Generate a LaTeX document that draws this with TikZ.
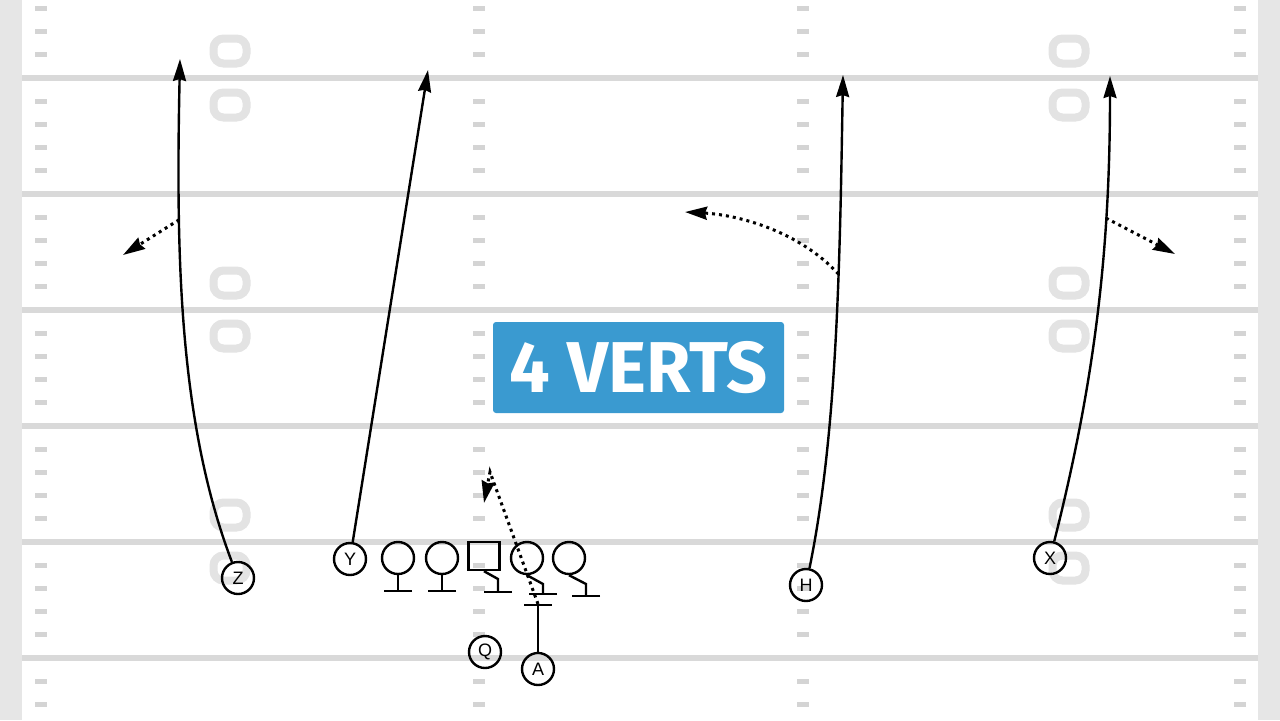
\documentclass[tikz,border=0pt]{standalone}
\usepackage{fontspec}
\setmainfont{Liberation Sans}
\newfontfamily\titlefont{Fira Sans}
\usepackage{tikz}
\usetikzlibrary{arrows.meta}
\definecolor{fieldline}{HTML}{D9D9D9}
\definecolor{hashgray}{HTML}{D4D4D4}
\definecolor{sidegray}{HTML}{E6E6E6}
\definecolor{numgray}{HTML}{E3E3E3}
\definecolor{titleblue}{HTML}{3A9AD0}

\begin{document}
\begin{tikzpicture}[x=0.5pt,y=-0.5pt,>={Stealth[length=11pt,width=6.5pt,inset=1pt]},
  player/.style={circle,draw,line width=1.2pt,minimum size=16pt,inner sep=0pt,font=\fontsize{9}{10}\selectfont},
  lineman/.style={circle,draw,line width=1.2pt,minimum size=16pt,inner sep=0pt},
  snap/.style={rectangle,draw,line width=1.2pt,minimum width=15.5pt,minimum height=14pt,inner sep=0pt},
  route/.style={->,line width=1.2pt},
  option/.style={->,line width=1.5pt,dash pattern=on 1.5pt off 2pt},
  stance/.style={-{Bar[width=14pt]},line width=1.2pt}]
\useasboundingbox (0,0) rectangle (1280,720);
\fill[white] (0,0) rectangle (1280,720);
\fill[sidegray] (0,0) rectangle (22,720);
\fill[sidegray] (1258,0) rectangle (1280,720);
% hashes and yard lines
\foreach \m in {0,...,30}
  \foreach \hx in {41,479,803,1240}
    \fill[hashgray] (\hx-6,8.4+23.2*\m-2.5) rectangle (\hx+6,8.4+23.2*\m+2.5);
\foreach \ly in {78,194,...,658}
  \fill[fieldline] (22,\ly-3) rectangle (1258,\ly+3);
\foreach \nx in {230,1069}
  \foreach \ny in {51,105,283,336,515,568}
    \draw[numgray,line width=4pt,rounded corners=5pt] (\nx-16.5,\ny-12.5) rectangle (\nx+16.5,\ny+12.5);

\node[fill=titleblue,rounded corners=1.5pt,minimum width=145.5pt,minimum height=45.5pt,text=white,
  font=\titlefont\fontsize{36}{36}\bfseries\selectfont] (T) at (638.5,367.5) {4 VERTS};

% players
\node[player]  (Z)  at (238,578)  {Z};
\node[player]  (Y)  at (350,559)  {Y};
\node[lineman] (LT) at (398,558)  {};
\node[lineman] (LG) at (442,558)  {};
\node[snap]    (C)  at (484,556)  {};
\node[lineman] (RG) at (527,558)  {};
\node[lineman] (RT) at (569,558)  {};
\node[player]  (H)  at (806,585)  {H};
\node[player]  (X)  at (1050,558) {X};
\node[player]  (Q)  at (485,652)  {Q};
\node[player]  (A)  at (538,669)  {A};

\coordinate (lts) at (398,592);
\coordinate (lgs) at (442,592);
\coordinate (cb)  at (498,579);
\coordinate (cs)  at (498,593);
\coordinate (rgb) at (543,584);
\coordinate (rgs) at (543,595);
\coordinate (rtb) at (586,584);
\coordinate (rts) at (586,597);
\coordinate (ab)  at (538,604);
\coordinate (at)  at (490,472);
\coordinate (ah)  at (484,503);
\coordinate (zt)  at (180,59);
\coordinate (zo)  at (123,255);
\coordinate (yt)  at (428,70);
\coordinate (ht)  at (843,75);
\coordinate (ho)  at (685,212);
\coordinate (xt)  at (1110,76);
\coordinate (xo)  at (1175,254);

% line
\draw[stance] (LT) -- (lts);
\draw[stance] (LG) -- (lgs);
\draw[stance] (C.south) -- (cb) -- (cs);
\draw[stance] (RG.south) -- (rgb) -- (rgs);
\draw[stance] (RT.south) -- (rtb) -- (rts);
\draw[stance] (A) -- (ab);
\draw[option] (ab) -- (at) -- (ah);

% routes
\draw[route] (Z) .. controls (178,420) and (176,250) .. (zt) coordinate[pos=0.71] (zb);
\draw[option] (zb) -- (zo);
\draw[route] (Y) -- (yt);
\draw[route] (H) .. controls (838,430) and (840,250) .. (ht) coordinate[pos=0.62] (hb);
\draw[option] (hb) .. controls (800,232) and (740,215) .. (ho);
\draw[route] (X) .. controls (1095,380) and (1110,250) .. (xt) coordinate[pos=0.71] (xb);
\draw[option] (xb) -- (xo);
\end{tikzpicture}
\end{document}
